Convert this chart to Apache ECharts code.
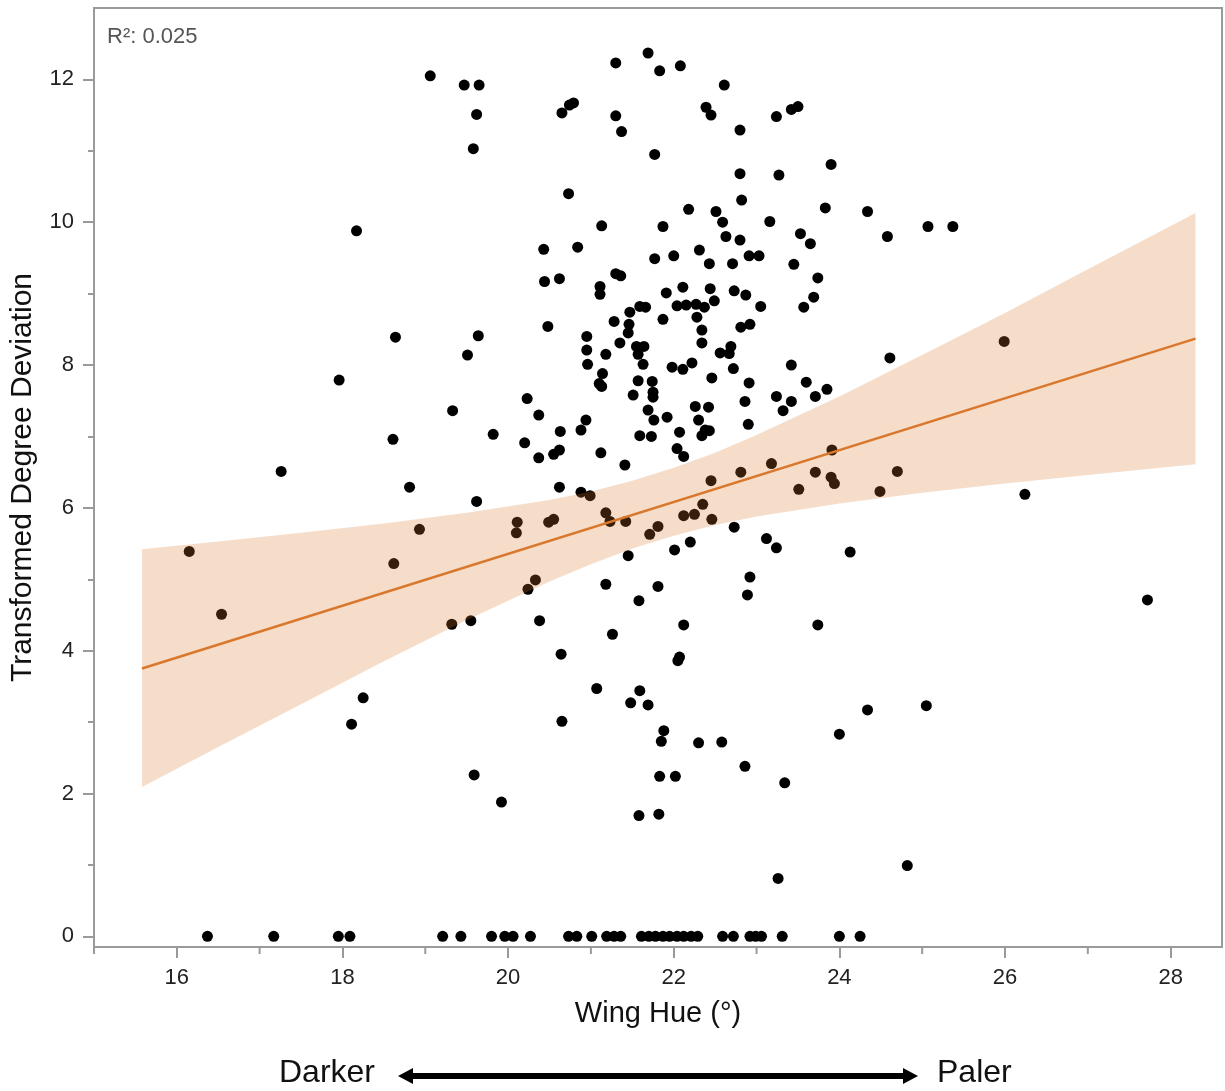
<!DOCTYPE html>
<html><head><meta charset="utf-8">
<script src="https://cdn.jsdelivr.net/npm/echarts@6/dist/echarts.min.js"></script>
<style>html,body{margin:0;padding:0;background:#fff}#chart{width:1225px;height:1091px}</style>
</head><body><div id="chart"></div>
<script>
// Wing hue (deg) vs transformed degree deviation
const points = [
[18.17,9.88],
[19.06,12.05],[19.47,11.92],[19.65,11.92],[19.62,11.51],[19.58,11.03],
[20.65,11.53],[20.74,11.64],[20.79,11.67],
[21.30,12.23],[21.69,12.37],[21.83,12.12],[22.08,12.19],[22.61,11.92],
[22.39,11.61],[22.45,11.50],[22.80,11.29],[23.24,11.48],[23.42,11.58],[23.50,11.62],
[21.30,11.49],[21.37,11.27],[21.77,10.95],[22.80,10.68],[23.27,10.66],[22.82,10.31],
[20.73,10.40],[22.18,10.18],[22.51,10.15],[22.59,10.00],[22.63,9.80],[22.80,9.75],
[23.16,10.01],[23.53,9.84],[23.65,9.70],[21.13,9.95],[21.87,9.94],[20.43,9.62],[20.84,9.65],
[21.77,9.49],[22.00,9.53],[22.31,9.61],[22.43,9.42],[22.71,9.42],[22.91,9.53],[23.03,9.53],
[23.45,9.41],[23.74,9.22],[23.69,8.95],[23.57,8.81],[20.44,9.17],[20.62,9.21],[21.30,9.28],
[21.36,9.25],[21.11,9.10],[21.11,8.99],[21.91,9.01],[22.11,9.09],[22.44,9.07],[22.73,9.04],
[22.87,8.98],[23.05,8.82],[22.49,8.90],[22.04,8.83],[22.15,8.84],[22.27,8.85],[22.37,8.81],
[22.28,8.67],[21.59,8.82],[21.66,8.81],[21.47,8.74],[21.87,8.64],[21.28,8.61],[21.46,8.57],
[20.48,8.54],[22.81,8.53],[22.92,8.57],[22.34,8.49],
[23.90,10.81],[23.83,10.20],[24.34,10.15],[24.58,9.80],[25.07,9.94],[25.37,9.94],
[18.64,8.39],[17.96,7.79],[17.26,6.51],[18.61,6.96],[18.81,6.29],[18.93,5.70],[16.15,5.39],[18.62,5.22],[16.54,4.51],
[19.64,8.41],[19.51,8.14],[21.45,8.45],[22.34,8.31],[20.95,8.40],[20.95,8.21],[20.96,8.01],[21.18,8.15],[21.35,8.31],
[21.55,8.26],[21.64,8.26],[21.57,8.15],[21.63,8.01],[21.98,7.97],[22.11,7.94],[22.22,8.03],[22.56,8.17],[22.69,8.26],
[22.67,8.16],[22.72,7.95],[23.42,8.00],[23.60,7.76],[23.71,7.56],[22.91,7.75],[22.86,7.49],[23.24,7.56],[23.42,7.49],
[23.32,7.36],[22.90,7.17],[22.46,7.82],[21.74,7.77],[21.57,7.78],[21.75,7.62],[21.75,7.55],[21.51,7.58],[21.14,7.88],
[21.10,7.74],[21.13,7.70],[21.69,7.37],[21.76,7.23],[21.92,7.27],[21.59,7.01],[21.73,7.00],[22.07,7.06],[22.26,7.42],
[22.42,7.41],[22.30,7.23],[22.38,7.09],[22.43,7.08],[22.34,7.01],[22.04,6.83],[22.12,6.72],[21.41,6.60],[21.12,6.77],
[20.88,7.09],[20.94,7.23],[20.63,7.07],[20.62,6.81],[20.55,6.75],[20.37,6.70],[20.20,6.91],[20.23,7.53],[20.37,7.30],
[19.82,7.03],[19.33,7.36],[19.62,6.09],[20.62,6.29],[20.88,6.22],[20.99,6.17],[20.11,5.80],[20.10,5.65],[20.49,5.80],
[20.55,5.84],[21.18,5.93],[21.23,5.81],[21.42,5.81],[21.71,5.63],[21.81,5.74],[22.12,5.89],[22.25,5.91],[22.35,6.05],
[22.46,5.84],[22.45,6.38],[22.81,6.50],[23.18,6.62],[23.51,6.26],[23.71,6.50],[22.73,5.73],[23.12,5.57],[23.24,5.44],
[22.20,5.52],[22.01,5.41],[21.45,5.33],[20.33,4.99],[20.24,4.86],[21.18,4.93],[21.81,4.90],[21.58,4.70],[22.92,5.03],
[22.89,4.78],[19.32,4.37],[19.55,4.42],[20.38,4.42],[22.12,4.36],[21.26,4.23],
[25.99,8.33],[24.61,8.10],[23.85,7.66],[23.91,6.81],[23.90,6.43],[23.94,6.34],[24.70,6.51],[24.49,6.23],[26.24,6.19],
[24.13,5.38],[23.74,4.36],[27.72,4.71],
[18.25,3.34],[18.11,2.97],
[20.64,3.95],[22.07,3.91],[22.05,3.86],[21.07,3.47],[21.59,3.44],[21.48,3.27],[21.69,3.24],[21.88,2.88],[21.85,2.73],
[22.30,2.71],[22.58,2.72],[22.86,2.38],[23.34,2.15],[19.59,2.26],[19.92,1.88],[20.65,3.01],[21.83,2.24],[22.02,2.24],
[21.58,1.69],[21.82,1.71],[23.26,0.81],
[24.00,2.83],[24.34,3.17],[25.05,3.23],[24.82,0.99]
];
// hues of the points lying at deviation 0
const zeroHue = [16.37,17.17,17.95,18.09,19.21,19.43,19.80,19.96,20.06,20.27,20.73,20.83,21.01,21.19,21.28,21.36,
21.61,21.70,21.78,21.87,21.95,22.04,22.12,22.21,22.29,22.59,22.72,22.92,22.99,23.06,23.31,24.00,24.25];

// fitted line and its confidence band, read at sample hues
const fitX = [15.58, 28.30];
const fitY = [3.75, 8.37];
const bandX =     [15.58,16.5,17.5,18.5,19.5,20.5,21.0,21.5,22.0,22.5,23.0,24.0,25.0,26.0,27.0,28.30];
const bandUpper = [5.42,5.53,5.65,5.78,5.93,6.11,6.23,6.38,6.56,6.77,7.02,7.56,8.14,8.73,9.34,10.13];
const bandLower = [2.09,2.65,3.25,3.85,4.43,4.97,5.21,5.43,5.61,5.76,5.88,6.06,6.21,6.34,6.46,6.61];

const xMajor = [16,18,20,22,24,26,28];
const xMinor = [15,17,19,21,23,25,27];
const yMajor = [0,2,4,6,8,10,12];
const yMinor = [1,3,5,7,9,11];
const X_MIN = 15, X_MAX = 28.62, Y_MIN = -0.15, Y_MAX = 13;

const scatterData = points.concat(zeroHue.map(h => [h, 0]));
const FONT = '"Liberation Sans", Arial, Helvetica, sans-serif';
const axisGray = '#9a9a9a';

const chart = echarts.init(document.getElementById('chart'), null, {renderer: 'canvas'});
chart.setOption({
  animation: false,
  backgroundColor: '#fff',
  grid: {left: 93, right: 3, top: 8, bottom: 144, show: true, borderColor: axisGray, borderWidth: 2, backgroundColor: 'transparent'},
  xAxis: [{
    type: 'value', min: X_MIN, max: X_MAX, position: 'bottom',
    name: 'Wing Hue (°)', nameLocation: 'middle', nameGap: 52,
    nameTextStyle: {fontFamily: FONT, fontSize: 29, color: '#111'},
    axisLine: {show: true, onZero: false, lineStyle: {color: axisGray, width: 2}},
    axisTick: {show: true, customValues: xMajor, length: 11, lineStyle: {color: axisGray, width: 2}},
    axisLabel: {customValues: xMajor, fontFamily: FONT, fontSize: 22, color: '#222', margin: 20},
    splitLine: {show: false}
  }],
  yAxis: [{
    type: 'value', min: Y_MIN, max: Y_MAX, position: 'left',
    name: 'Transformed Degree Deviation', nameLocation: 'middle', nameGap: 56,
    nameTextStyle: {fontFamily: FONT, fontSize: 30, color: '#111'},
    axisLine: {show: true, onZero: false, lineStyle: {color: axisGray, width: 2}},
    axisTick: {show: true, customValues: yMajor, length: 11, lineStyle: {color: axisGray, width: 2}},
    axisLabel: {customValues: yMajor, fontFamily: FONT, fontSize: 22, color: '#222', margin: 20},
    splitLine: {show: false}
  }, {
    type: 'value', min: Y_MIN, max: Y_MAX, position: 'left', offset: 0,
    axisLine: {show: false},
    axisTick: {show: true, customValues: yMinor, length: 6, lineStyle: {color: axisGray, width: 2}},
    axisLabel: {show: false},
    splitLine: {show: false}
  }],
  series: [{
    type: 'scatter', xAxisIndex: 0, yAxisIndex: 0, z: 2,
    symbol: 'circle', symbolSize: 11,
    itemStyle: {color: '#000', opacity: 1},
    data: scatterData
  }, {
    type: 'custom', xAxisIndex: 0, yAxisIndex: 0, z: 3, silent: true,
    data: [[bandX[0], bandLower[0]]],
    renderItem: function (params, api) {
      const pts = [];
      for (let i = 0; i < bandX.length; i++) pts.push(api.coord([bandX[i], bandUpper[i]]));
      for (let i = bandX.length - 1; i >= 0; i--) pts.push(api.coord([bandX[i], bandLower[i]]));
      return {type: 'polygon', shape: {points: pts}, style: {fill: 'rgba(215,118,45,0.25)'}};
    }
  }, {
    type: 'line', xAxisIndex: 0, yAxisIndex: 0, z: 4, silent: true,
    symbol: 'none',
    lineStyle: {color: '#d9782d', width: 2.5},
    data: fitX.map((x, i) => [x, fitY[i]])
  }, {
    // minor ticks of the hue axis (odd degrees), placed through the axis scale
    type: 'custom', xAxisIndex: 0, yAxisIndex: 0, z: 5, silent: true, clip: false,
    data: xMinor.map(v => [v, Y_MIN]),
    renderItem: function (params, api) {
      const p = api.coord([api.value(0), Y_MIN]);
      return {type: 'line', shape: {x1: p[0], y1: p[1], x2: p[0], y2: p[1] + 7}, style: {stroke: axisGray, lineWidth: 2}};
    }
  }],
  graphic: [
    {type: 'text', left: 107, top: 26, style: {text: 'R²: 0.025', font: '22px ' + FONT, fill: '#555'}},
    {type: 'text', left: 279, top: 1057, style: {text: 'Darker', font: '32px ' + FONT, fill: '#111'}},
    {type: 'text', left: 937, top: 1057, style: {text: 'Paler', font: '32px ' + FONT, fill: '#111'}},
    {type: 'polygon', shape: {points: [[398,1076],[413,1068],[413,1073],[903,1073],[903,1068],[918,1076],[903,1084],[903,1079],[413,1079],[413,1084]]},
     style: {fill: '#000'}}
  ]
});
</script></body></html>
